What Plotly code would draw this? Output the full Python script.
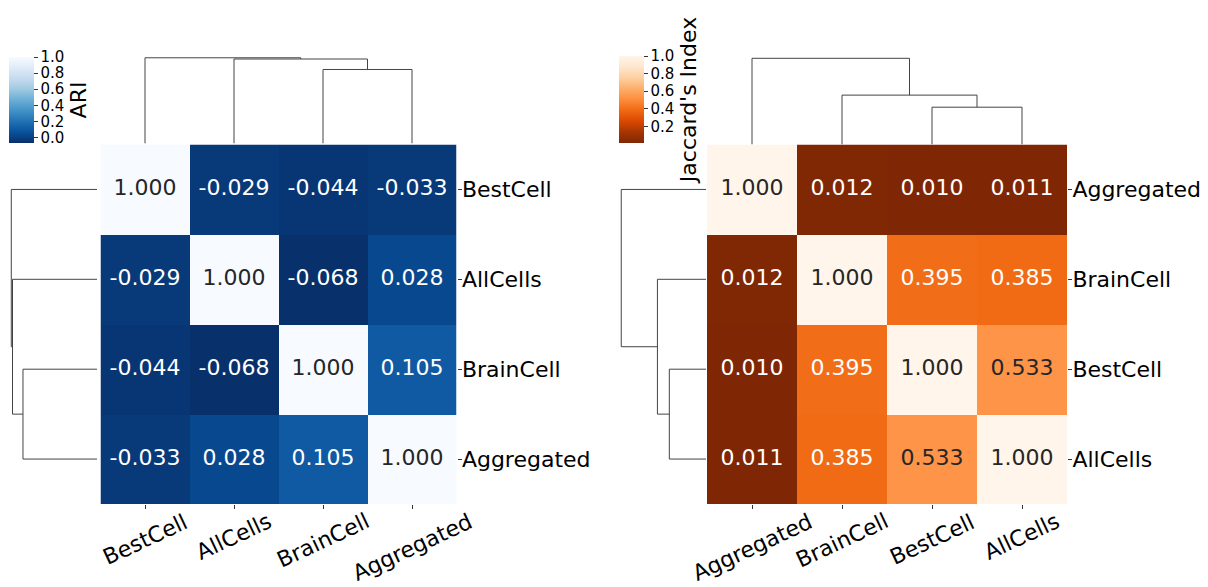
import numpy as np
import plotly.graph_objects as go

W, H = 1208, 587
FONT = "DejaVu Sans"

# ---------------- data ----------------
ari_labels = ["BestCell", "AllCells", "BrainCell", "Aggregated"]
ari_values = [
    [1.000, -0.029, -0.044, -0.033],
    [-0.029, 1.000, -0.068, 0.028],
    [-0.044, -0.068, 1.000, 0.105],
    [-0.033, 0.028, 0.105, 1.000],
]
ari_cbar_ticks = [0.0, 0.2, 0.4, 0.6, 0.8, 1.0]

jac_labels = ["Aggregated", "BrainCell", "BestCell", "AllCells"]
jac_values = [
    [1.000, 0.012, 0.010, 0.011],
    [0.012, 1.000, 0.395, 0.385],
    [0.010, 0.395, 1.000, 0.533],
    [0.011, 0.385, 0.533, 1.000],
]
jac_cbar_ticks = [0.2, 0.4, 0.6, 0.8, 1.0]

blues_r = ["#08306b", "#08519c", "#2171b5", "#4292c6", "#6baed6",
           "#9ecae1", "#c6dbef", "#deebf7", "#f7fbff"]
oranges_r = ["#7f2704", "#a63603", "#d94801", "#f16913", "#fd8d3c",
             "#fdae6b", "#fdd0a2", "#fee6ce", "#fff5eb"]


# ---------------- helpers ----------------
def hex2rgb(h):
    h = h.lstrip("#")
    return np.array([int(h[i:i + 2], 16) for i in (0, 2, 4)], dtype=float) / 255.0


def cmap_color(colors, t):
    t = min(max(t, 0.0), 1.0)
    n = len(colors) - 1
    i = min(int(t * n), n - 1)
    f = t * n - i
    return hex2rgb(colors[i]) * (1 - f) + hex2rgb(colors[i + 1]) * f


def luminance(rgb):
    c = np.where(rgb <= 0.03928, rgb / 12.92, ((rgb + 0.055) / 1.055) ** 2.4)
    return 0.2126 * c[0] + 0.7152 * c[1] + 0.0722 * c[2]


def average_linkage(mat):
    """UPGMA on euclidean distances between rows; returns merge segments."""
    X = np.asarray(mat, dtype=float)
    n = len(X)
    D = np.sqrt(((X[:, None, :] - X[None, :, :]) ** 2).sum(-1))
    clusters = {i: dict(members=[i], pos=float(i), h=0.0) for i in range(n)}
    merges = []
    nid = n
    while len(clusters) > 1:
        keys = list(clusters)
        best = None
        for a in range(len(keys)):
            for b in range(a + 1, len(keys)):
                ca, cb = clusters[keys[a]], clusters[keys[b]]
                d = np.mean([D[i, j] for i in ca["members"] for j in cb["members"]])
                if best is None or d < best[0]:
                    best = (d, keys[a], keys[b])
        d, ka, kb = best
        ca, cb = clusters.pop(ka), clusters.pop(kb)
        if ca["pos"] > cb["pos"]:
            ca, cb = cb, ca
        merges.append((ca["pos"], ca["h"], cb["pos"], cb["h"], d))
        clusters[nid] = dict(members=ca["members"] + cb["members"],
                             pos=(ca["pos"] + cb["pos"]) / 2, h=d)
        nid += 1
    return merges


def px(p):
    return p / W


def py(p):
    return 1 - p / H


fig = go.Figure()
layout = dict(
    width=W, height=H, margin=dict(l=0, r=0, t=0, b=0, autoexpand=False),
    paper_bgcolor="white", plot_bgcolor="white", showlegend=False,
    font=dict(family=FONT, color="black"),
)
annotations = []


def panel(idx, labels, values, colors, ticks, title, heat_x, heat_y,
          top_y, left_x, cbar_x, cbar_len):
    vals = np.asarray(values, dtype=float)
    n = len(labels)
    vmin, vmax = vals.min(), vals.max()
    k = 3 * idx
    ax_h, ax_t, ax_l = k + 1, k + 2, k + 3
    xs = lambda i: "x" if i == 1 else f"x{i}"
    ys = lambda i: "y" if i == 1 else f"y{i}"
    xl = lambda i: "xaxis" if i == 1 else f"xaxis{i}"
    yl = lambda i: "yaxis" if i == 1 else f"yaxis{i}"

    cs = [[i / (len(colors) - 1), c] for i, c in enumerate(colors)]
    idxs = list(range(n))
    fig.add_trace(go.Heatmap(
        z=vals, x=idxs, y=idxs, zmin=vmin, zmax=vmax, colorscale=cs,
        xaxis=xs(ax_h), yaxis=ys(ax_h), hoverinfo="skip",
        colorbar=dict(
            x=px(cbar_x), xanchor="left", xpad=0, ypad=0,
            y=py(143), yanchor="bottom",
            len=cbar_len, lenmode="pixels", thickness=25, thicknessmode="pixels",
            outlinewidth=0, tickvals=ticks, tickformat=".1f",
            ticks="outside", ticklen=4, tickwidth=1, tickcolor="#333",
            tickfont=dict(size=15, family=FONT, color="black"),
            title=dict(text=title, side="right",
                       font=dict(size=22, family=FONT, color="black")),
        ),
    ))
    # cell annotations
    tx, ty, tt, tc = [], [], [], []
    for r in range(n):
        for c in range(n):
            v = vals[r, c]
            col = cmap_color(colors, (v - vmin) / (vmax - vmin))
            tx.append(c)
            ty.append(r)
            tt.append(f"{v:.3f}")
            tc.append("#262626" if luminance(col) > 0.408 else "#ffffff")
    fig.add_trace(go.Scatter(
        x=tx, y=ty, text=tt, mode="text", hoverinfo="skip",
        textfont=dict(size=22, family=FONT, color=tc),
        xaxis=xs(ax_h), yaxis=ys(ax_h),
    ))
    layout[xl(ax_h)] = dict(domain=[px(heat_x[0]), px(heat_x[1])], range=[-0.5, n - 0.5],
                            anchor=ys(ax_h), tickvals=idxs, showticklabels=False,
                            ticks="outside", ticklen=4, tickcolor="#333",
                            showgrid=False, zeroline=False, showline=False)
    layout[yl(ax_h)] = dict(domain=[py(heat_y[1]), py(heat_y[0])], range=[n - 0.5, -0.5],
                            anchor=xs(ax_h), side="right", tickvals=idxs, ticktext=labels,
                            ticks="outside", ticklen=4, tickcolor="#333",
                            ticklabelstandoff=-4,
                            tickfont=dict(size=22, family=FONT, color="black"),
                            showgrid=False, zeroline=False, showline=False)
    # rotated column labels
    for i, lab in enumerate(labels):
        annotations.append(dict(
            x=i, xref=xs(ax_h), y=py(heat_y[1] + 2), yref="paper",
            text=lab, textangle=-25, showarrow=False, xanchor="center", yanchor="top",
            font=dict(size=22, family=FONT, color="black"),
        ))

    merges = average_linkage(vals)
    root = max(m[4] for m in merges)
    # top dendrogram
    dx, dy = [], []
    for pa, ha, pb, hb, h in merges:
        dx += [pa, pa, pb, pb, None]
        dy += [ha, h, h, hb, None]
    fig.add_trace(go.Scatter(x=dx, y=dy, mode="lines", hoverinfo="skip",
                             line=dict(color="#444", width=1),
                             xaxis=xs(ax_t), yaxis=ys(ax_t)))
    layout[xl(ax_t)] = dict(domain=[px(heat_x[0]), px(heat_x[1])], range=[-0.5, n - 0.5],
                            anchor=ys(ax_t), visible=False)
    layout[yl(ax_t)] = dict(domain=[py(top_y[1]), py(top_y[0])], range=[0, root * 1.05],
                            anchor=xs(ax_t), visible=False)
    # left dendrogram
    fig.add_trace(go.Scatter(x=dy, y=dx, mode="lines", hoverinfo="skip",
                             line=dict(color="#444", width=1),
                             xaxis=xs(ax_l), yaxis=ys(ax_l)))
    layout[xl(ax_l)] = dict(domain=[px(left_x[0]), px(left_x[1])], range=[root * 1.05, 0],
                            anchor=ys(ax_l), visible=False)
    layout[yl(ax_l)] = dict(domain=[py(heat_y[1]), py(heat_y[0])], range=[n - 0.5, -0.5],
                            anchor=xs(ax_l), visible=False)


panel(0, ari_labels, ari_values, blues_r, ari_cbar_ticks, "ARI",
      heat_x=(100.5, 456.5), heat_y=(144.5, 504), top_y=(53.5, 143.5),
      left_x=(7, 97), cbar_x=9, cbar_len=86)
panel(1, jac_labels, jac_values, oranges_r, jac_cbar_ticks, "Jaccard's Index",
      heat_x=(707, 1067), heat_y=(144.5, 504), top_y=(54, 144.5),
      left_x=(617, 706), cbar_x=619, cbar_len=87)

layout["annotations"] = annotations
fig.update_layout(**layout)
fig.write_html(
    "out.html",
    config={"displayModeBar": False},
    post_script="document.body.style.margin='0';document.body.style.overflow='hidden';",
)
